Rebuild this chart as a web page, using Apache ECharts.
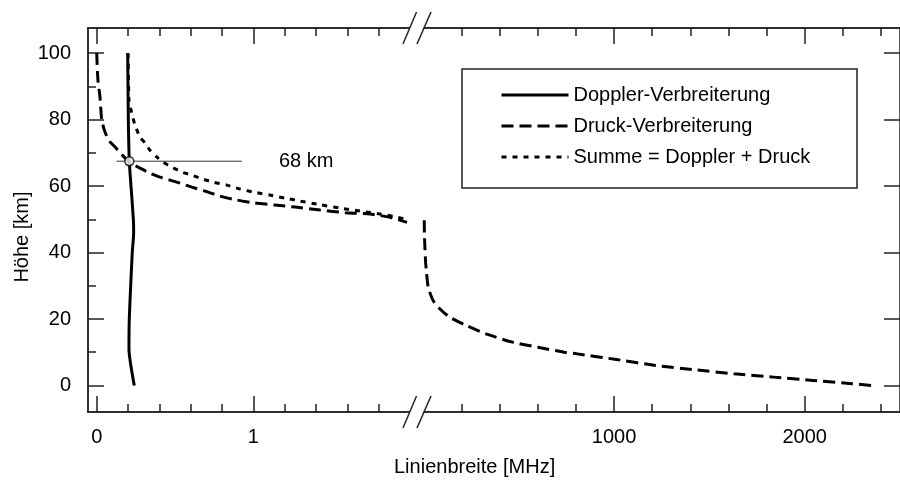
<!DOCTYPE html>
<html><head><meta charset="utf-8">
<script src="https://cdn.jsdelivr.net/npm/echarts@6/dist/echarts.min.js"></script>
<style>html,body{margin:0;padding:0;background:#fff}#c{width:900px;height:485px}</style>
</head><body><div id="c"></div>
<script>
// ---- data (x = Linienbreite in MHz, y = Höhe in km) ----
const dopplerH = [100, 80, 67.5, 60, 50, 46, 40, 30, 20, 11, 0];
const dopplerX = [0.198, 0.202, 0.208, 0.219, 0.234, 0.236, 0.227, 0.217, 0.208, 0.206, 0.240];

const druckLeftH = [100.1, 91.9, 86.8, 80.0, 76.3, 73.3, 71.8, 69.4, 67.3, 65.4, 63.9, 62.7, 60.9, 59.7, 58.5, 57.0, 55.8, 54.9, 54.3, 53.7, 52.8, 52.0, 51.6, 50.6, 49.1];
const druckLeftX = [0.0, 0.008, 0.021, 0.032, 0.053, 0.085, 0.117, 0.162, 0.208, 0.277, 0.340, 0.404, 0.532, 0.608, 0.691, 0.787, 0.896, 1.010, 1.138, 1.266, 1.426, 1.585, 1.745, 1.872, 1.981];

const summeH = [100.1, 91.9, 85.9, 82.9, 80.5, 78.4, 74.8, 73.0, 70.8, 68.7, 67.2, 65.7, 64.2, 63.3, 62.4, 61.2, 60.3, 59.1, 58.0, 57.3, 56.4, 55.5, 54.4, 53.4, 52.5, 51.6, 50.8, 50.0];
const summeX = [0.200, 0.203, 0.206, 0.219, 0.232, 0.244, 0.276, 0.308, 0.340, 0.385, 0.423, 0.481, 0.545, 0.608, 0.659, 0.743, 0.832, 0.915, 1.023, 1.106, 1.202, 1.298, 1.426, 1.553, 1.681, 1.808, 1.904, 1.974];

const druckRightH = [49.7, 45.2, 40.7, 37.1, 33.8, 29.5, 25.6, 23.1, 20.6, 18.1, 15.6, 13.1, 11.5, 10.0, 9.5, 7.8, 6.0, 4.7, 3.5, 2.5, 1.5, 0.5, 0];
const druckRightX = [4, 5, 8, 11, 16, 25, 50, 85, 136, 222, 325, 462, 600, 737, 806, 1012, 1218, 1424, 1630, 1836, 2042, 2248, 2351];

const markH = 67.5;            // 68 km marker
const markLineX = [0.127, 0.927];
const markPointX = 0.208;
const markLabel = '68 km';

const leftTicksMajor = [0, 1];
const leftTicksMinor = [0.2, 0.4, 0.6, 0.8, 1.2, 1.4, 1.6, 1.8];
const rightTicksMajor = [1000, 2000];
const rightTicksMinor = [200, 400, 600, 800, 1200, 1400, 1600, 1800, 2200, 2400];
const yTicksMajor = [0, 20, 40, 60, 80, 100];
const yTicksMinor = [10, 30, 50, 70, 90];

const names = ['Doppler-Verbreiterung', 'Druck-Verbreiterung', 'Summe = Doppler + Druck'];
const xTitle = 'Linienbreite [MHz]';
const yTitle = 'Höhe [km]';

// ---- build ----
const FONT = "'Liberation Sans',Arial,sans-serif";
const FS = 20;
const AX = '#222';
const zip = (xs, ys) => xs.map((x, i) => [x, ys[i]]);

function xAx(grid, pos, min, max, ticks, len, labels) {
  return {
    type: 'value', gridIndex: grid, position: pos, min: min, max: max,
    splitLine: {show: false},
    axisLine: {show: true, onZero: false, lineStyle: {color: AX, width: 1.5}},
    axisTick: {show: true, inside: true, length: len, customValues: ticks, lineStyle: {color: AX, width: 1.5}},
    axisLabel: labels ? {show: true, customValues: ticks, margin: 15, color: '#000', fontFamily: FONT, fontSize: FS,
      formatter: v => String(v)} : {show: false}
  };
}
function yAx(grid, pos, ticks, len, labels) {
  return {
    type: 'value', gridIndex: grid, position: pos, min: -8, max: 107.6,
    splitLine: {show: false},
    axisLine: {show: true, onZero: false, lineStyle: {color: AX, width: 1.5}},
    axisTick: {show: true, inside: true, length: len, customValues: ticks, lineStyle: {color: AX, width: 1.5}},
    axisLabel: labels ? {show: true, customValues: ticks, margin: 17, color: '#000', fontFamily: FONT, fontSize: FS,
      formatter: v => String(v)} : {show: false}
  };
}
const LMIN = -0.0555, LMAX = 2.0, RMIN = 0, RMAX = 2500;

const chart = echarts.init(document.getElementById('c'), null, {renderer: 'canvas'});
const breakLine = (x1, y1, x2, y2) => ({type: 'line', shape: {x1, y1, x2, y2}, style: {stroke: AX, lineWidth: 1.5}, z: 100});
const lineS = (name, xi, yi, data, type, z) => ({
  name, type: 'line', xAxisIndex: xi, yAxisIndex: yi, data, symbol: 'none', smooth: 0.2,
  lineStyle: {color: '#000', width: 3, type}, itemStyle: {color: '#000'}, z
});

chart.setOption({
  animation: false,
  backgroundColor: '#fff',
  title: {text: xTitle, left: 394, top: 457, padding: 0,
    textStyle: {fontFamily: FONT, fontSize: FS, fontWeight: 'normal', color: '#000'}},
  grid: [
    {left: 88, top: 28, width: 322, height: 384},
    {left: 423.5, top: 28, width: 485.5, height: 384}
  ],
  xAxis: [
    xAx(0, 'bottom', LMIN, LMAX, leftTicksMajor, 16, true),
    xAx(0, 'bottom', LMIN, LMAX, leftTicksMinor, 8, false),
    xAx(0, 'top', LMIN, LMAX, leftTicksMajor, 16, false),
    xAx(0, 'top', LMIN, LMAX, leftTicksMinor, 8, false),
    xAx(1, 'bottom', RMIN, RMAX, rightTicksMajor, 16, true),
    xAx(1, 'bottom', RMIN, RMAX, rightTicksMinor, 8, false),
    xAx(1, 'top', RMIN, RMAX, rightTicksMajor, 16, false),
    xAx(1, 'top', RMIN, RMAX, rightTicksMinor, 8, false)
  ],
  yAxis: [
    yAx(0, 'left', yTicksMajor, 16, true),
    yAx(0, 'left', yTicksMinor, 8, false),
    yAx(1, 'right', yTicksMajor, 16, false)
  ],
  legend: {
    data: names, orient: 'vertical', left: 500, top: 83, padding: 0,
    itemWidth: 67, itemHeight: 14, itemGap: 7,
    itemStyle: {color: 'rgba(0,0,0,0)', borderColor: 'rgba(0,0,0,0)', borderWidth: 0, opacity: 0},
    lineStyle: {width: 3},
    textStyle: {fontFamily: FONT, fontSize: FS, lineHeight: 24, color: '#000'}
  },
  graphic: [
    {type: 'rect', shape: {x: 462, y: 69, width: 395, height: 119},
      style: {fill: 'none', stroke: AX, lineWidth: 1.5}, z: 100},
    {type: 'text', x: 22, y: 237, rotation: Math.PI / 2,
      style: {text: yTitle, font: FS + 'px ' + FONT, fill: '#000', align: 'center', verticalAlign: 'middle'}},
    {type: 'rect', shape: {x: 410, y: 20, width: 13.5, height: 16}, style: {fill: '#fff'}, z: 99},
    {type: 'rect', shape: {x: 410, y: 404, width: 13.5, height: 16}, style: {fill: '#fff'}, z: 99},
    breakLine(403, 44, 416.5, 12), breakLine(417, 44, 431, 12),
    breakLine(403, 428, 416.5, 396), breakLine(417, 428, 431, 396)
  ],
  series: [
    lineS(names[0], 0, 0, zip(dopplerX, dopplerH), 'solid', 5),
    lineS(names[1], 0, 0, zip(druckLeftX, druckLeftH), [12, 6], 4),
    lineS(names[2], 0, 0, zip(summeX, summeH), [5, 6], 3),
    lineS(names[1], 4, 2, zip(druckRightX, druckRightH), [12, 6], 4),
    {name: 'mark', type: 'line', xAxisIndex: 0, yAxisIndex: 0,
      data: [[markLineX[0], markH], [markLineX[1], markH]],
      symbol: 'none', lineStyle: {color: '#333', width: 1}, z: 2, silent: true,
      endLabel: {show: true, distance: 37, formatter: markLabel, color: '#000', fontFamily: FONT, fontSize: FS}},
    {name: 'markpt', type: 'scatter', xAxisIndex: 0, yAxisIndex: 0, data: [[markPointX, markH]],
      symbol: 'circle', symbolSize: 9, itemStyle: {color: '#fff', borderColor: '#000', borderWidth: 1.5}, z: 10, silent: true}
  ]
});
</script></body></html>
